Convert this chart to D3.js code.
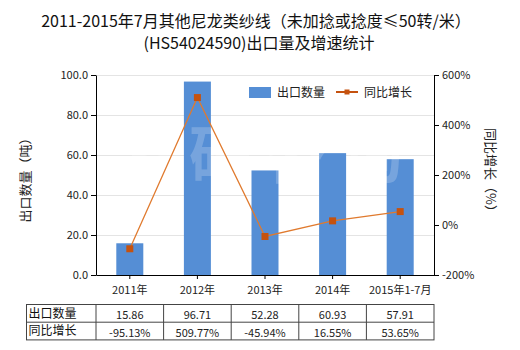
<!DOCTYPE html>
<html><head><meta charset="utf-8">
<script src="https://cdn.jsdelivr.net/npm/d3@7"></script>
<style>
body{margin:0;background:#fff;}
text{font-family:"Microsoft YaHei","Noto Sans CJK SC","DejaVu Sans",sans-serif;}
</style></head>
<body><svg id="c" width="520" height="350"></svg>
<script>
const categories = ["2011年","2012年","2013年","2014年","2015年1-7月"];
const volume = [15.86, 96.71, 52.28, 60.93, 57.91];
const growth = [-95.13, 509.77, -45.94, 16.55, 53.65];
const volumeLabels = ["15.86","96.71","52.28","60.93","57.91"];
const growthLabels = ["-95.13%","509.77%","-45.94%","16.55%","53.65%"];
const leftTicks = [0,20,40,60,80,100];
const rightTicks = [-200,0,200,400,600];

const svg = d3.select("#c");
const L = 96, R = 434, T = 75, B = 275;
const barColor = "#558ed5", lineColor = "#e07a2e", markColor = "#c5520f";

const x = d3.scaleBand().domain(categories).range([L, R]).paddingInner(0).paddingOuter(0);
const yL = d3.scaleLinear().domain([0,100]).range([B, T]);
const yR = d3.scaleLinear().domain([-200,600]).range([B, T]);

// title
const title = svg.append("text").attr("text-anchor","middle").attr("font-size",16).attr("fill","#111");
title.append("tspan").attr("x",256).attr("y",27).text("2011-2015年7月其他尼龙类纱线（未加捻或捻度≤50转/米）");
title.append("tspan").attr("x",259).attr("y",49).text("(HS54024590)出口量及增速统计");

// gridlines
svg.append("g").selectAll("line").data(leftTicks.slice(1)).join("line")
  .attr("x1",L).attr("x2",R).attr("y1",d=>yL(d)).attr("y2",d=>yL(d))
  .attr("stroke","#e4e4e4").attr("stroke-width",1).attr("shape-rendering","crispEdges");

// bars
const bw = 27;
svg.append("g").selectAll("rect").data(volume).join("rect")
  .attr("x",(d,i)=>x(categories[i])+x.bandwidth()/2-bw/2)
  .attr("width",bw)
  .attr("y",d=>yL(d)).attr("height",d=>B-yL(d))
  .attr("fill",barColor);

// faint watermark
svg.append("text").attr("x",265).attr("y",178).attr("text-anchor","middle")
  .attr("font-size",62).attr("font-weight","bold").attr("fill","#fff").attr("opacity",0.2)
  .attr("letter-spacing",14).text("济研咨询");

// growth line
const cx = i => x(categories[i]) + x.bandwidth()/2;
svg.append("path").datum(growth)
  .attr("d", d3.line().x((d,i)=>cx(i)).y(d=>yR(d)))
  .attr("fill","none").attr("stroke",lineColor).attr("stroke-width",1.3);
svg.append("g").selectAll("rect").data(growth).join("rect")
  .attr("x",(d,i)=>cx(i)-3.5).attr("y",d=>yR(d)-3.5).attr("width",7).attr("height",7)
  .attr("fill",markColor);

// axes
const axL = svg.append("g").attr("transform",`translate(${L},0)`)
  .call(d3.axisLeft(yL).tickValues(leftTicks).tickFormat(d3.format(".1f")).tickSize(5).tickSizeOuter(0));
const axR = svg.append("g").attr("transform",`translate(${R},0)`)
  .call(d3.axisRight(yR).tickValues(rightTicks).tickFormat(d=>d+"%").tickSize(5).tickSizeOuter(0));
const axB = svg.append("g").attr("transform",`translate(0,${B})`)
  .call(d3.axisBottom(x).tickSize(4).tickSizeOuter(0));
[axL,axR,axB].forEach(g=>{
  g.selectAll("path,line").attr("stroke","#000");
  g.selectAll("text").attr("font-size",11).attr("fill","#222")
   .attr("font-family",'"Microsoft YaHei","Noto Sans CJK SC",sans-serif');
});
axB.selectAll("text").attr("dy","1.05em");

// axis titles
svg.append("text").attr("transform","translate(30,177) rotate(-90)").attr("text-anchor","middle")
  .attr("font-size",13).attr("fill","#222").text("出口数量（吨）");
svg.append("text").attr("transform","translate(486,173) rotate(90)").attr("text-anchor","middle")
  .attr("font-size",13).attr("fill","#222").text("同比增长（%）");

// legend
svg.append("rect").attr("x",249).attr("y",87).attr("width",22).attr("height",11).attr("fill",barColor);
svg.append("text").attr("x",277).attr("y",97).attr("font-size",12).attr("fill","#222").text("出口数量");
svg.append("line").attr("x1",336).attr("x2",358).attr("y1",92).attr("y2",92).attr("stroke",markColor).attr("stroke-width",2);
svg.append("rect").attr("x",344.5).attr("y",89.5).attr("width",5).attr("height",5).attr("fill",markColor);
svg.append("text").attr("x",364).attr("y",97).attr("font-size",12).attr("fill","#222").text("同比增长");

// data table
const tL = 26.5, tT = 304.5, rowH = 17.7;
const tbl = svg.append("g");
const rows = [["出口数量", volumeLabels],["同比增长", growthLabels]];
tbl.append("rect").attr("x",tL).attr("y",tT).attr("width",R-tL).attr("height",rowH*2)
  .attr("fill","none").attr("stroke","#444").attr("stroke-width",1);
tbl.append("line").attr("x1",tL).attr("x2",R).attr("y1",tT+rowH).attr("y2",tT+rowH).attr("stroke","#444");
tbl.append("line").attr("x1",L).attr("x2",L).attr("y1",tT).attr("y2",tT+rowH*2).attr("stroke","#444");
categories.slice(1).forEach(c=>{
  tbl.append("line").attr("x1",x(c)).attr("x2",x(c)).attr("y1",tT).attr("y2",tT+rowH*2).attr("stroke","#444");
});
rows.forEach((r,ri)=>{
  const yb = tT + rowH*ri;
  tbl.append("text").attr("x",tL+2).attr("y",yb+13).attr("font-size",12).attr("fill","#111").text(r[0]);
  tbl.selectAll(null).data(r[1]).join("text")
    .attr("x",(d,i)=>cx(i)).attr("y",yb+14.5).attr("text-anchor","middle")
    .attr("font-size",11).attr("fill","#222").text(d=>d);
});
</script></body></html>
